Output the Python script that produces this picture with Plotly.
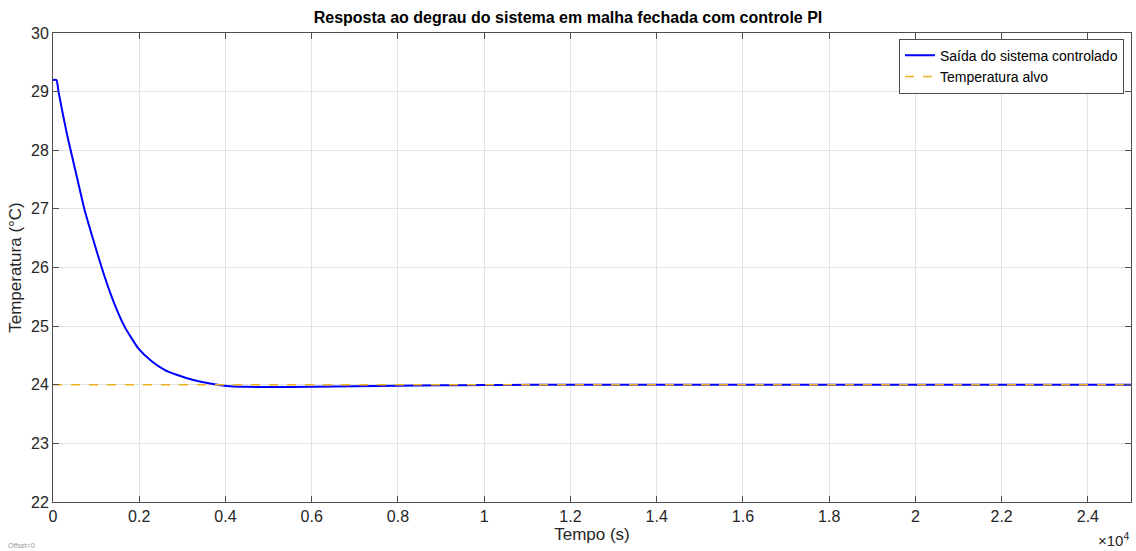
import plotly.graph_objects as go

# Data
t_sys = [0, 80, 128, 255, 355, 410, 549, 727, 935, 1129, 1361, 1654, 1979, 2289, 2597, 2868, 3254, 3640, 4028, 4490, 5000, 6000, 7000, 8000, 9000, 10000, 12000, 25000]
y_sys = [29.2, 29.2, 29.0, 28.52, 28.17, 28.0, 27.56, 27.0, 26.47, 26.0, 25.5, 25.0, 24.62, 24.40, 24.25, 24.17, 24.08, 24.02, 23.98, 23.965, 23.96, 23.965, 23.975, 23.985, 23.99, 23.995, 24.0, 24.0]
t_target = [0, 25000]
y_target = [24, 24]

x_tickvals = [0, 2000, 4000, 6000, 8000, 10000, 12000, 14000, 16000, 18000, 20000, 22000, 24000]
x_ticktext = ["0", "0.2", "0.4", "0.6", "0.8", "1", "1.2", "1.4", "1.6", "1.8", "2", "2.2", "2.4"]
y_tickvals = [22, 23, 24, 25, 26, 27, 28, 29, 30]

font_family = "Liberation Sans, Arial, sans-serif"

fig = go.Figure()
fig.add_trace(go.Scatter(x=t_sys, y=y_sys, mode="lines", name="Saída do sistema controlado",
                         line=dict(color="#0000ff", width=2, shape="spline", smoothing=0.5)))
fig.add_trace(go.Scatter(x=t_target, y=y_target, mode="lines", name="Temperatura alvo",
                         line=dict(color="#edb120", width=1.5, dash="dash")))

axis_common = dict(showgrid=True, gridcolor="#e3e3e3", gridwidth=1,
                   showline=True, linecolor="#4d4d4d", linewidth=1, mirror="ticks",
                   ticks="inside", ticklen=6, tickcolor="#4d4d4d", zeroline=False,
                   tickfont=dict(size=16, color="#262626", family=font_family))

fig.update_xaxes(range=[0, 25000], tickvals=x_tickvals, ticktext=x_ticktext,
                 title=dict(text="Tempo (s)", font=dict(size=17, color="#262626", family=font_family), standoff=3),
                 **axis_common)
fig.update_yaxes(range=[22, 30], tickvals=y_tickvals,
                 title=dict(text="Temperatura (°C)", font=dict(size=17, color="#262626", family=font_family), standoff=5),
                 **axis_common)

fig.update_layout(
    width=1136, height=551,
    margin=dict(l=53, r=5, t=33, b=49),
    paper_bgcolor="white", plot_bgcolor="white",
    title=dict(text="<b>Resposta ao degrau do sistema em malha fechada com controle PI</b>",
               x=0.5, xanchor="center", y=0.968, yanchor="middle",
               font=dict(size=16, color="#000000", family=font_family)),
    legend=dict(x=0.9935, xanchor="right", y=0.988, yanchor="top",
                bgcolor="white", bordercolor="#4d4d4d", borderwidth=1,
                font=dict(size=14, color="#000000", family=font_family),
                itemwidth=30, tracegroupgap=0),
    showlegend=True,
    annotations=[
        dict(text="×10<sup>4</sup>", xref="paper", yref="paper", x=1.0, y=-0.081,
             xanchor="right", yanchor="middle", showarrow=False,
             font=dict(size=15, color="#262626", family=font_family)),
        dict(text="Offset=0", xref="paper", yref="paper", x=-0.044, y=-0.093,
             xanchor="left", yanchor="middle", showarrow=False,
             font=dict(size=7, color="#999999", family=font_family)),
    ],
)

fig.write_html("out.html")
